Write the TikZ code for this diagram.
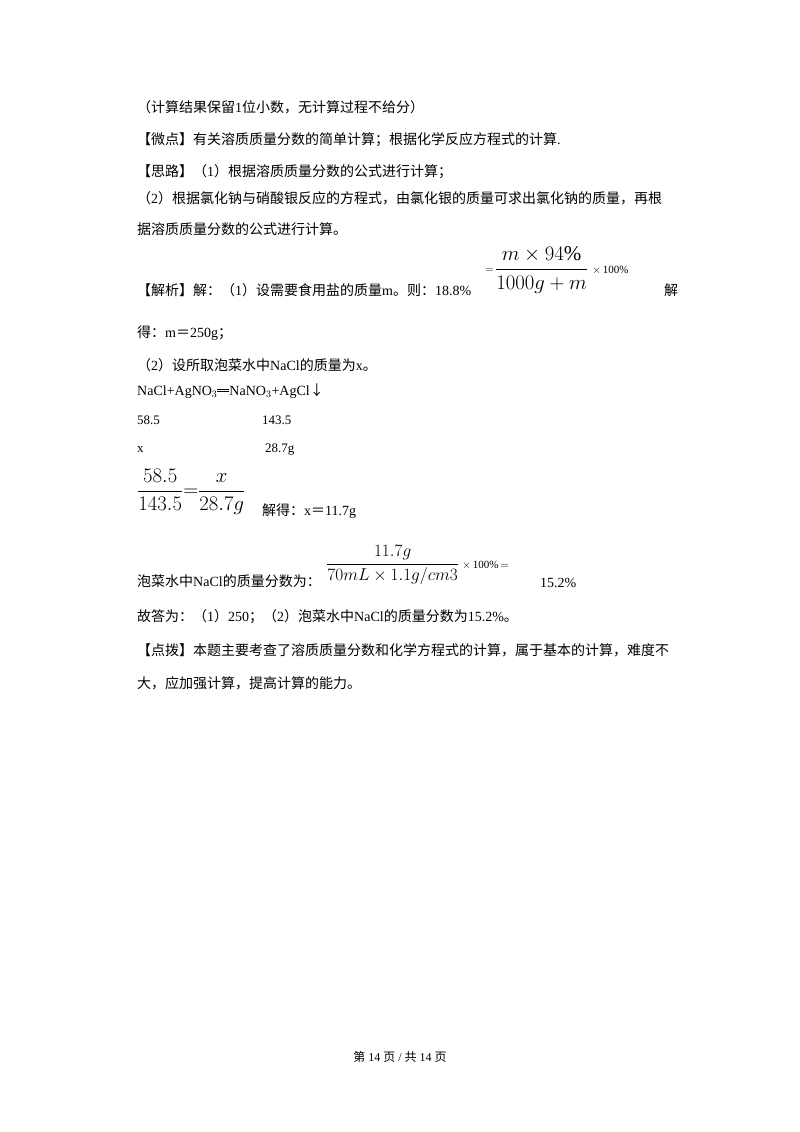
\documentclass[tikz,border=0pt]{standalone}
\usepackage{amsmath}
\usepackage{fontspec}
\setmainfont{Liberation Serif}
\newfontfamily\cjk{Noto Sans CJK SC}
\begin{document}
\begin{tikzpicture}[x=1pt,y=-1pt,
  t/.style={anchor=west,inner sep=0pt,font=\fontsize{14}{16}\selectfont}]
\useasboundingbox[fill=white] (0,0) rectangle (800,1132);
\newcommand\C[1]{{\cjk #1}}
\node[t] (l1) at (137,107) {\C{（计算结果保留}1\C{位小数，无计算过程不给分）}};
\node[t] (l2) at (137,140) {\C{【微点】有关溶质质量分数的简单计算；根据化学反应方程式的计算}.};
\node[t] (l3) at (137,172) {\C{【思路】（}1\C{）根据溶质质量分数的公式进行计算；}};
\node[t] (l4) at (137,198) {\C{（}2\C{）根据氯化钠与硝酸银反应的方程式，由氯化银的质量可求出氯化钠的质量，再根}};
\node[t] (l5) at (137,229) {\C{据溶质质量分数的公式进行计算。}};
\node[t] (l6) at (137,290) {\C{【解析】解：（}1\C{）设需要食用盐的质量}m\C{。则：}18.8\%};
\node[t,font=\fontsize{11}{12}\selectfont] (eq1) at (485,270) {$=$};
\node[t,font=\fontsize{21}{24}\selectfont] (fr1) at (495,270) {$\dfrac{m\times 94\%}{1000g+m}$};
\node[t,font=\fontsize{11}{12}\selectfont] (p1) at ([xshift=4pt]fr1.east) {$\times\,$100\%};
\node[t] (l6b) at (664,290) {\C{解}};
\node[t] (l7) at (137,333) {\C{得：}m\C{＝}250g\C{；}};
\node[t] (l8) at (137,365) {\C{（}2\C{）设所取泡菜水中}NaCl\C{的质量为}x\C{。}};
\node[t] (l9) at (137,391) {NaCl+AgNO$_3$\rule[0.25em]{12pt}{0.4pt}\hspace{-12pt}\rule[0.4em]{12pt}{0.4pt}NaNO$_3$+AgCl\C{↓}};
\node[t,font=\fontsize{13}{15}\selectfont] (a1) at (137,420) {58.5};
\node[t,font=\fontsize{13}{15}\selectfont] (a2) at (262,420) {143.5};
\node[t,font=\fontsize{13}{15}\selectfont] (b1) at (137,450) {x};
\node[t,font=\fontsize{13}{15}\selectfont] (b2) at (265,450) {28.7g};
\node[t,font=\fontsize{20}{24}\selectfont] (fr2) at (137,492) {$\dfrac{58.5}{143.5}{=}\dfrac{x}{28.7g}$};
\node[t] (l10) at (262,511) {\C{解得：}x\C{＝}11.7g};
\node[t] (l11) at (137,581) {\C{泡菜水中}NaCl\C{的质量分数为：}};
\node[t,font=\fontsize{19}{22}\selectfont] (fr3) at (326,565) {$\dfrac{11.7g}{70mL\times 1.1g/cm3}$};
\node[t,font=\fontsize{11}{12}\selectfont] (p2) at ([xshift=3pt]fr3.east) {$\times\,$100\%$\,=$};
\node[t] (l11b) at (540,583) {15.2\%};
\node[t] (l12) at (137,617) {\C{故答为：（}1\C{）}250\C{；（}2\C{）泡菜水中}NaCl\C{的质量分数为}15.2\%\C{。}};
\node[t] (l13) at (137,650) {\C{【点拨】本题主要考查了溶质质量分数和化学方程式的计算，属于基本的计算，难度不}};
\node[t] (l14) at (137,683) {\C{大，应加强计算，提高计算的能力。}};
\node[inner sep=0pt,font=\fontsize{12}{14}\selectfont] (ft) at (400,1057) {\C{第} 14 \C{页} / \C{共} 14 \C{页}};
\end{tikzpicture}
\end{document}
